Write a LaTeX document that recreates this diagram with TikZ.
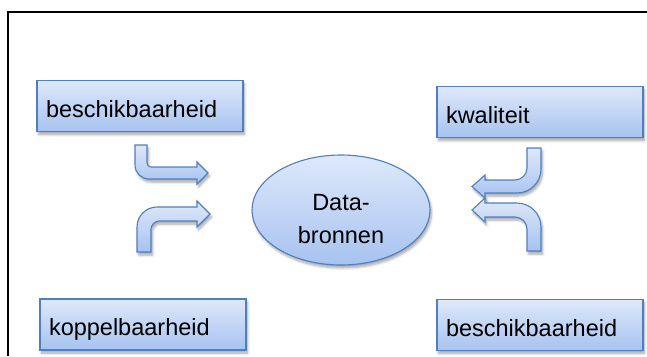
\documentclass[tikz,border=0pt]{standalone}
\usepackage{fontspec}
\setmainfont{Liberation Sans}
\usetikzlibrary{shapes.geometric,shadows.blur}

\definecolor{boxtop}{HTML}{DEE8FA}
\definecolor{boxbot}{HTML}{A7C3F0}
\definecolor{boxline}{HTML}{4F7FC0}

\tikzset{
  softshadow/.style={blur shadow={shadow xshift=1.5pt, shadow yshift=-3pt,
      shadow opacity=35, shadow blur steps=6, shadow blur radius=2.5pt}},
  bluefill/.style={draw=boxline, line width=1.1pt, top color=boxtop,
      bottom color=boxbot, softshadow},
  labelbox/.style={bluefill, rectangle, minimum height=51pt,
      text width=188pt, inner xsep=9pt, align=left,
      text height=26pt, text depth=4pt,
      font=\fontsize{23.5}{28}\selectfont},
  source/.style={bluefill, ellipse, minimum width=178pt, minimum height=110pt,
      inner sep=0pt, align=center, font=\fontsize{23.5}{33}\selectfont},
  blockarrow/.style={bluefill, line width=1.1pt, line join=miter},
  frameline/.style={line width=2.5pt, black}
}

\begin{document}
\begin{tikzpicture}[x=1pt, y=-1pt]
  \useasboundingbox (0,0) rectangle (647,356);

  % open frame: only its top and left edges fall on the page
  \coordinate (frameTR) at (647,12);
  \coordinate (frameTL) at (8,12);
  \coordinate (frameBL) at (8,356);
  \draw[frameline] (frameTR) -- (frameTL) -- (frameBL);

  % labelled boxes
  \node[labelbox] (beschikA) at (140,106)   {beschikbaarheid};
  \node[labelbox] (kwaliteit) at (540,112)  {kwaliteit};
  \node[labelbox] (koppel) at (143,324.5)   {koppelbaarheid};
  \node[labelbox] (beschikB) at (540,325)   {beschikbaarheid};

  % central source; the strut lowers the two lines a little
  \node[source] (data) at (341,210) {\rule{0pt}{34pt}Data-\\bronnen};

  % bent block arrows pointing at the sources
  % upper left: down, then right
  \path[blockarrow]
    (147,145) -- (147,163) .. controls (147,165.2) and (148.8,167) .. (151,167)
    -- (197,167) -- (197,162) -- (208,173) -- (197,184) -- (197,179)
    -- (149,179) .. controls (141.3,179) and (135,172.7) .. (135,165)
    -- (135,145) -- cycle;

  % lower left: up, then right
  \path[blockarrow]
    (137,252) -- (137,227) .. controls (137,215.96) and (145.96,207) .. (157,207)
    -- (197,207) -- (197,201) -- (210,214) -- (197,227) -- (197,221)
    -- (159,221) .. controls (154.6,221) and (151,225.4) .. (151,229)
    -- (151,252) -- cycle;

  % upper right: down, then left
  \path[blockarrow]
    (527,148) -- (541,148) -- (541,169) .. controls (541,182.25) and (530.25,193) .. (517,193)
    -- (485,193) -- (485,198) -- (472,186.5) -- (485,175) -- (485,180)
    -- (515,180) .. controls (521.6,180) and (527,174.6) .. (527,168) -- cycle;

  % lower right: up, then left
  \path[blockarrow]
    (527,251) -- (527,229) .. controls (527,222.4) and (521.6,217) .. (515,217)
    -- (485,217) -- (485,222) -- (472,210) -- (485,198) -- (485,203)
    -- (517,203) .. controls (530.25,203) and (541,213.75) .. (541,227)
    -- (541,251) -- cycle;
\end{tikzpicture}
\end{document}
